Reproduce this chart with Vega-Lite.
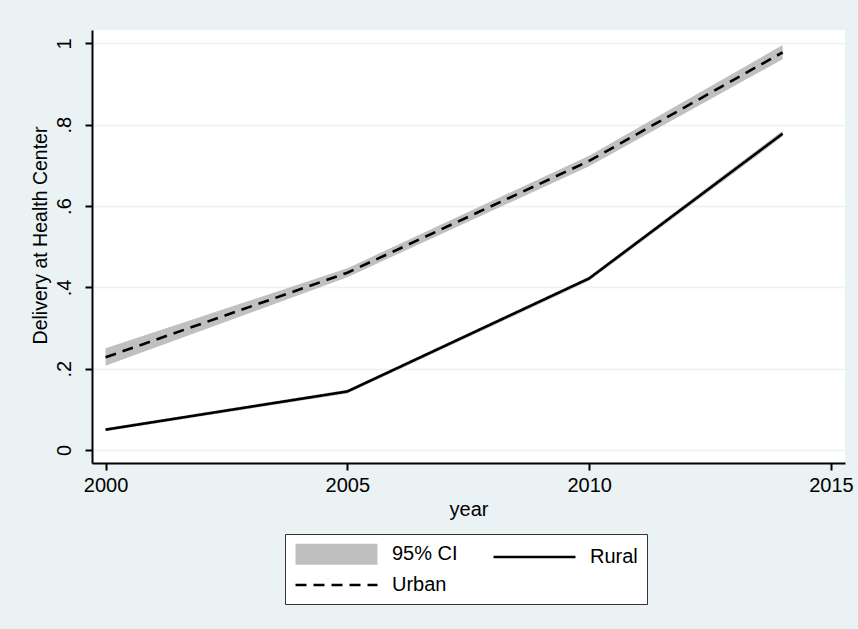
{
  "$schema": "https://vega.github.io/schema/vega-lite/v6.json",
  "width": 753,
  "height": 433,
  "autosize": {"type": "none"},
  "padding": {"left": 92, "top": 30, "right": 13, "bottom": 166},
  "background": "#eaf2f3",
  "config": {
    "font": "Liberation Sans",
    "view": {"fill": "white", "stroke": null},
    "axis": {
      "domainColor": "black",
      "domainWidth": 2,
      "tickColor": "black",
      "tickWidth": 2,
      "tickSize": 7,
      "labelFont": "Liberation Sans",
      "labelFontSize": 20,
      "labelColor": "black",
      "titleFont": "Liberation Sans",
      "titleFontSize": 20,
      "titleFontWeight": "normal",
      "titleColor": "black"
    }
  },
  "data": {
    "values": [
      {"year": 2000, "series": "Urban", "mean": 0.228, "lo": 0.207, "hi": 0.250},
      {"year": 2005, "series": "Urban", "mean": 0.436, "lo": 0.425, "hi": 0.447},
      {"year": 2010, "series": "Urban", "mean": 0.711, "lo": 0.698, "hi": 0.724},
      {"year": 2014, "series": "Urban", "mean": 0.978, "lo": 0.961, "hi": 0.996},
      {"year": 2000, "series": "Rural", "mean": 0.050, "lo": 0.046, "hi": 0.054},
      {"year": 2005, "series": "Rural", "mean": 0.144, "lo": 0.139, "hi": 0.148},
      {"year": 2010, "series": "Rural", "mean": 0.422, "lo": 0.416, "hi": 0.427},
      {"year": 2014, "series": "Rural", "mean": 0.778, "lo": 0.771, "hi": 0.785}
    ]
  },
  "encoding": {
    "x": {
      "field": "year",
      "type": "quantitative",
      "scale": {"domain": [1999.72, 2015.29], "nice": false, "zero": false},
      "axis": {
        "values": [2000, 2005, 2010, 2015],
        "format": "d",
        "grid": false,
        "labelPadding": 5,
        "labelFlush": false,
        "title": "year",
        "titlePadding": 4
      }
    }
  },
  "layer": [
    {
      "mark": {"type": "area", "color": "#c0c0c0", "opacity": 1},
      "encoding": {
        "y": {
          "field": "lo",
          "type": "quantitative",
          "scale": {"domain": [-0.032, 1.033], "nice": false, "zero": false},
          "axis": {
            "values": [0, 0.2, 0.4, 0.6, 0.8, 1],
            "labelExpr": "datum.value == 0 ? '0' : datum.value == 1 ? '1' : '.' + round(datum.value * 10)",
            "labelAngle": 270,
            "labelAlign": "center",
            "labelBaseline": "alphabetic",
            "labelPadding": 15,
            "grid": true,
            "gridColor": "#eaf2f3",
            "gridWidth": 1.5,
            "title": "Delivery at Health Center",
            "titleFontSize": 19.5,
            "titleY": 205,
            "titlePadding": 4
          }
        },
        "y2": {"field": "hi"},
        "detail": {"field": "series"}
      }
    },
    {
      "mark": {"type": "line", "color": "black", "strokeWidth": 2.6},
      "encoding": {
        "y": {"field": "mean", "type": "quantitative"},
        "strokeDash": {
          "field": "series",
          "type": "nominal",
          "scale": {"domain": ["95% CI", "Rural", "Urban"], "range": [[1, 0], [1, 0], [11, 7]]},
          "legend": {
            "title": null,
            "orient": "none",
            "legendX": 193,
            "legendY": 504,
            "direction": "horizontal",
            "columns": 2,
            "columnPadding": 30,
            "rowPadding": 4,
            "padding": 9,
            "fillColor": "white",
            "strokeColor": "#333333",
            "labelFont": "Liberation Sans",
            "labelFontSize": 20,
            "labelColor": "black",
            "labelOffset": 13,
            "symbolSize": 6724,
            "symbolStrokeWidth": 2.6,
            "symbolStrokeColor": "black",
            "encode": {
              "entries": {
                "update": {"height": {"value": 22}, "width": {"value": 153}}
              },
              "symbols": {
                "update": {
                  "y": {"value": 11},
                  "shape": {"signal": "datum.value === '95% CI' ? 'M-1,-0.256H1V0.256H-1Z' : 'stroke'"},
                  "fill": {"signal": "datum.value === '95% CI' ? '#c0c0c0' : 'transparent'"},
                  "stroke": {"signal": "datum.value === '95% CI' ? 'transparent' : 'black'"}
                }
              },
              "labels": {
                "update": {"y": {"value": 11}, "baseline": {"value": "middle"}}
              }
            }
          }
        }
      }
    }
  ]
}
